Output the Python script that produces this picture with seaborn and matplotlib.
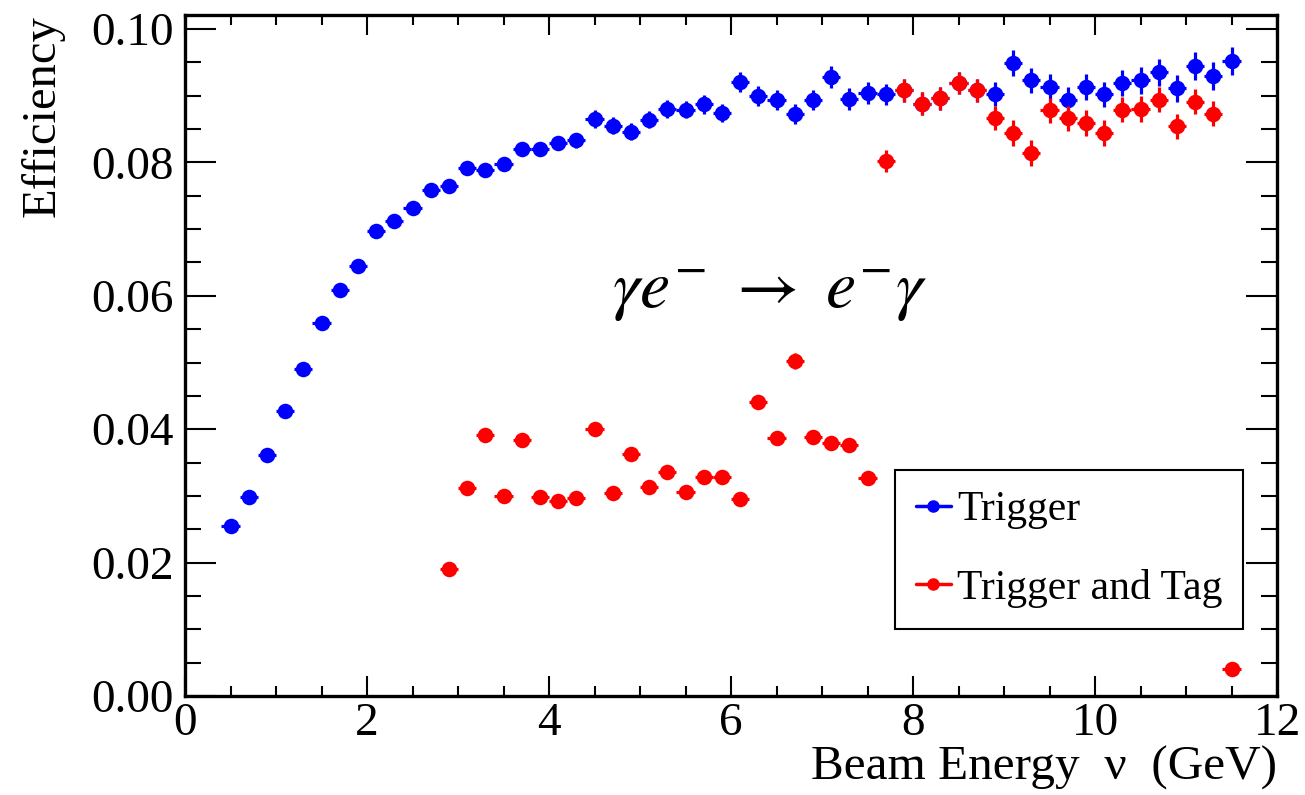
import matplotlib
matplotlib.use("Agg")
import matplotlib.pyplot as plt
from matplotlib.ticker import MultipleLocator, FormatStrFormatter
from matplotlib.lines import Line2D
import seaborn as sns

# Beam energy bin centres (GeV) and efficiencies
energy_trigger = [0.5, 0.7, 0.9, 1.1, 1.3, 1.5, 1.7, 1.9, 2.1, 2.3, 2.5, 2.7, 2.9, 3.1,
                  3.3, 3.5, 3.7, 3.9, 4.1, 4.3, 4.5, 4.7, 4.9, 5.1, 5.3, 5.5, 5.7, 5.9,
                  6.1, 6.3, 6.5, 6.7, 6.9, 7.1, 7.3, 7.5, 7.7, 7.9, 8.1, 8.3, 8.5, 8.7,
                  8.9, 9.1, 9.3, 9.5, 9.7, 9.9, 10.1, 10.3, 10.5, 10.7, 10.9, 11.1, 11.3, 11.5]
eff_trigger = [0.0255, 0.0299, 0.0361, 0.0427, 0.0490, 0.0560, 0.0609, 0.0645, 0.0697, 0.0712,
               0.0732, 0.0759, 0.0764, 0.0791, 0.0788, 0.0797, 0.0820, 0.0820, 0.0829, 0.0833,
               0.0865, 0.0855, 0.0846, 0.0864, 0.0880, 0.0879, 0.0887, 0.0874, 0.0920, 0.0899,
               0.0893, 0.0873, 0.0893, 0.0928, 0.0895, 0.0904, 0.0902, 0.0908, 0.0888, 0.0896,
               0.0919, 0.0908, 0.0903, 0.0949, 0.0923, 0.0913, 0.0894, 0.0913, 0.0902, 0.0919,
               0.0923, 0.0935, 0.0911, 0.0944, 0.0929, 0.0952]
err_trigger = [0.0005, 0.0005, 0.0005, 0.0006, 0.0006, 0.0006, 0.0006, 0.0007, 0.0007, 0.0007,
               0.0008, 0.0009, 0.0009, 0.0010, 0.0010, 0.0010, 0.0011, 0.0011, 0.0011, 0.0011,
               0.0013, 0.0013, 0.0013, 0.0013, 0.0013, 0.0013, 0.0014, 0.0014, 0.0015, 0.0015,
               0.0015, 0.0015, 0.0015, 0.0016, 0.0016, 0.0016, 0.0016, 0.0017, 0.0017, 0.0017,
               0.0017, 0.0017, 0.0018, 0.0019, 0.0019, 0.0019, 0.0019, 0.0019, 0.0019, 0.0020,
               0.0020, 0.0020, 0.0020, 0.0021, 0.0021, 0.0021]

energy_tag = [2.9, 3.1, 3.3, 3.5, 3.7, 3.9, 4.1, 4.3, 4.5, 4.7, 4.9, 5.1, 5.3, 5.5, 5.7,
              5.9, 6.1, 6.3, 6.5, 6.7, 6.9, 7.1, 7.3, 7.5, 7.7, 7.9, 8.1, 8.3, 8.5, 8.7,
              8.9, 9.1, 9.3, 9.5, 9.7, 9.9, 10.1, 10.3, 10.5, 10.7, 10.9, 11.1, 11.3, 11.5]
eff_tag = [0.0190, 0.0312, 0.0391, 0.0300, 0.0384, 0.0299, 0.0292, 0.0297, 0.0401, 0.0304,
           0.0363, 0.0314, 0.0336, 0.0306, 0.0328, 0.0329, 0.0295, 0.0441, 0.0387, 0.0502,
           0.0389, 0.0380, 0.0376, 0.0327, 0.0802, 0.0908, 0.0888, 0.0896, 0.0919, 0.0908,
           0.0866, 0.0844, 0.0814, 0.0878, 0.0866, 0.0859, 0.0844, 0.0879, 0.0880, 0.0894,
           0.0854, 0.0891, 0.0873, 0.0040]
err_tag = [0.0006, 0.0008, 0.0009, 0.0008, 0.0009, 0.0008, 0.0008, 0.0008, 0.0010, 0.0008,
           0.0009, 0.0009, 0.0009, 0.0009, 0.0009, 0.0009, 0.0009, 0.0011, 0.0010, 0.0012,
           0.0010, 0.0010, 0.0010, 0.0009, 0.0016, 0.0017, 0.0017, 0.0017, 0.0017, 0.0017,
           0.0018, 0.0019, 0.0019, 0.0019, 0.0019, 0.0019, 0.0019, 0.0019, 0.0019, 0.0019,
           0.0019, 0.0019, 0.0019, 0.0004]
bin_half_width = 0.1

series_labels = ["Trigger", "Trigger and Tag"]
series_colors = ["#0000ff", "#ff0000"]

sns.set_theme(style="ticks")
plt.rcParams["font.family"] = ["Liberation Serif", "DejaVu Serif"]
plt.rcParams["mathtext.fontset"] = "stix"
for key in ("text.color", "axes.labelcolor", "xtick.color", "ytick.color",
            "axes.edgecolor"):
    plt.rcParams[key] = "black"

fig = plt.figure(figsize=(13.05, 7.95), dpi=100)
ax = fig.add_axes([0.1418, 0.1245, 0.8368, 0.8566])

datasets = [(energy_trigger, eff_trigger, err_trigger),
            (energy_tag, eff_tag, err_tag)]
for i, ((xs, ys, es), color) in enumerate(zip(datasets, series_colors)):
    ax.errorbar(xs, ys, xerr=bin_half_width, yerr=es, fmt="none",
                ecolor=color, elinewidth=2.3, capsize=0, zorder=2 + 2 * i)
    sns.scatterplot(x=xs, y=ys, color=color, s=125, linewidth=0,
                    ax=ax, zorder=3 + 2 * i, legend=False)

ax.set_xlim(0, 12)
ax.set_ylim(0, 0.1021)
ax.xaxis.set_major_locator(MultipleLocator(2))
ax.xaxis.set_minor_locator(MultipleLocator(0.5))
ax.yaxis.set_major_locator(MultipleLocator(0.02))
ax.yaxis.set_minor_locator(MultipleLocator(0.005))
ax.yaxis.set_major_formatter(FormatStrFormatter("%.2f"))

for side in ax.spines.values():
    side.set_visible(True)
    side.set_linewidth(2.4)
    side.set_color("black")

ax.tick_params(axis="both", which="both", direction="in", top=True, right=True,
               color="black", labelcolor="black", width=1.5)
ax.tick_params(axis="x", which="major", length=14.5, labelsize=34, pad=5)
ax.tick_params(axis="x", which="minor", length=7)
ax.tick_params(axis="y", which="major", length=22, labelsize=34, pad=8)
ax.tick_params(axis="y", which="minor", length=11.5)

ax.set_xlabel("Beam Energy  ν  (GeV)", fontsize=35.5, loc="right", labelpad=0)
ax.set_ylabel("Efficiency", fontsize=35, loc="top")
ax.yaxis.set_label_coords(-0.110, 1.0)

ax.text(0.535, 0.593, r"$\gamma e^{-}\ \rightarrow\ e^{-}\gamma$", transform=ax.transAxes,
        fontsize=49, ha="center", va="center")

handles = [Line2D([], [], color=c, marker="o", markersize=8, linewidth=2.5)
           for c in series_colors]
leg = ax.legend(handles, series_labels, loc="upper left",
                bbox_to_anchor=(0.650, 0.0999, 0.3187, 0.232), mode="expand",
                borderaxespad=0, fontsize=30, handlelength=0.85, handletextpad=0.15,
                labelspacing=0.95, borderpad=0.5, fancybox=False,
                framealpha=1, edgecolor="black")
leg.get_frame().set_linewidth(1.5)

fig.savefig("out.png", dpi=100)
